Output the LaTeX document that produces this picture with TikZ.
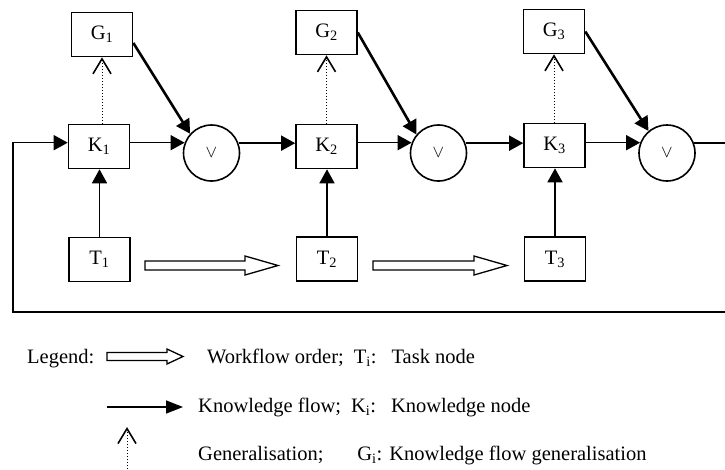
\documentclass[tikz,border=0pt]{standalone}
\usepackage{fontspec}
\setmainfont{Liberation Serif}
\usetikzlibrary{arrows.meta}

\begin{document}
\begin{tikzpicture}[x=1pt,y=-1pt,
  txt/.style={font=\fontsize{20.5}{24}\selectfont},
  box/.style={draw, line width=1.6pt, minimum width=61pt, minimum height=44pt, inner sep=0pt, txt},
  orgate/.style={draw, circle, line width=1.6pt, minimum size=56pt, inner sep=0pt, font=\fontsize{16}{18}\selectfont},
  kflow/.style={line width=1.6pt, -{Triangle[length=14pt,width=15pt]}},
  gflow/.style={line width=2.6pt, -{Triangle[length=14pt,width=15pt]}},
  genflow/.style={line width=1pt, dotted, -{Straight Barb[length=15pt,width=18pt,line width=1.6pt]}},
  blockarrow/.style={draw, line width=1.3pt, line join=miter},
  lbl/.style={txt, inner sep=0pt, anchor=base west}
]
\useasboundingbox (0,0) rectangle (725,469);

% generalisation nodes
\node[box] (G1) at (102,34.5) {G\textsubscript{1}};
\node[box] (G2) at (326.5,32.5) {G\textsubscript{2}};
\node[box] (G3) at (554,31.5) {G\textsubscript{3}};

% knowledge nodes
\node[box] (K1) at (99,146.5) {K\textsubscript{1}};
\node[box] (K2) at (326.5,146.5) {K\textsubscript{2}};
\node[box] (K3) at (554.5,145.5) {K\textsubscript{3}};

% OR junctions
\node[orgate] (c1) at (211.5,153) {\raisebox{-3pt}{$\vee$}};
\node[orgate] (c2) at (438.5,153) {\raisebox{-3pt}{$\vee$}};
\node[orgate] (c3) at (667,153) {\raisebox{-3pt}{$\vee$}};

% task nodes
\node[box] (T1) at (99.5,259.5) {T\textsubscript{1}};
\node[box] (T2) at (327,259) {T\textsubscript{2}};
\node[box] (T3) at (555,259) {T\textsubscript{3}};

% knowledge flow along the chain
\draw[kflow] (K1.east |- c1.159.5) -- (c1.159.5);
\draw[kflow] (c1.20.5) -- (c1.20.5 -| K2.west);
\draw[kflow] (K2.east |- c2.159.5) -- (c2.159.5);
\draw[kflow] (c2.20.5) -- (c2.20.5 -| K3.west);
\draw[kflow] (K3.east |- c3.159.5) -- (c3.159.5);

% feedback loop
\coordinate (rt) at (725,143);
\coordinate (rb) at (725,312);
\coordinate (lb) at (13,312);
\draw[line width=1.6pt] (c3.20.5) -- (c3.20.5 -| rt);
\draw[kflow] (rb) -- (lb) |- (K1.west |- c1.159.5);

% tasks feed knowledge nodes
\draw[kflow] (T1.north) -- (T1.north |- K1.south);
\draw[kflow] (T2.north) -- (T2.north |- K2.south);
\draw[kflow] (T3.north) -- (T3.north |- K3.south);

% generalisation
\draw[genflow] (G1.south |- K1.north) -- (G1.south);
\draw[genflow] (G2.south |- K2.north) -- (G2.south);
\draw[genflow] (G3.south |- K3.north) -- (G3.south);

% generalisations into the junctions
\draw[gflow] (G1.-15) -- (c1.138);
\draw[gflow] (G2.east) -- (c2.140);
\draw[gflow] (G3.east) -- (c3.130);

% workflow order (hollow block arrows)
\coordinate (w1) at (145,265.5);
\coordinate (w2) at (373,265.5);
\draw[blockarrow] (w1) ++(0,-4.5) -- ++(100,0) -- ++(0,-5) -- ++(33,9.5)
  -- ++(-33,9.5) -- ++(0,-5) -- ++(-100,0) -- cycle;
\draw[blockarrow] (w2) ++(0,-4.5) -- ++(101,0) -- ++(0,-5) -- ++(33,9.5)
  -- ++(-33,9.5) -- ++(0,-5) -- ++(-101,0) -- cycle;

% legend
\node[lbl] (leg) at (27,363) {Legend:};
\coordinate (lw) at (107,356.5);
\draw[blockarrow] (lw) ++(0,-4) -- ++(60,0) -- ++(0,-3.5) -- ++(16,7.5)
  -- ++(-16,7.5) -- ++(0,-3.5) -- ++(-60,0) -- cycle;
\node[lbl] (lwt) at (207,363) {Workflow order;\hspace{10pt}T\textsubscript{i}:\hspace{15pt}Task node};
\coordinate (lk1) at (107,407);
\coordinate (lk2) at (183,407);
\draw[line width=1.6pt, -{Triangle[length=17pt,width=13pt]}] (lk1) -- (lk2);
\node[lbl] (lkt) at (198,412) {Knowledge flow;\hspace{10pt}K\textsubscript{i}:\hspace{15pt}Knowledge node};
\coordinate (lg1) at (127,469);
\coordinate (lg2) at (127,427);
\draw[genflow] (lg1) -- (lg2);
\node[lbl] (lgt) at (198,460) {Generalisation;\hspace{34pt}G\textsubscript{i}: Knowledge flow generalisation};
\end{tikzpicture}
\end{document}
